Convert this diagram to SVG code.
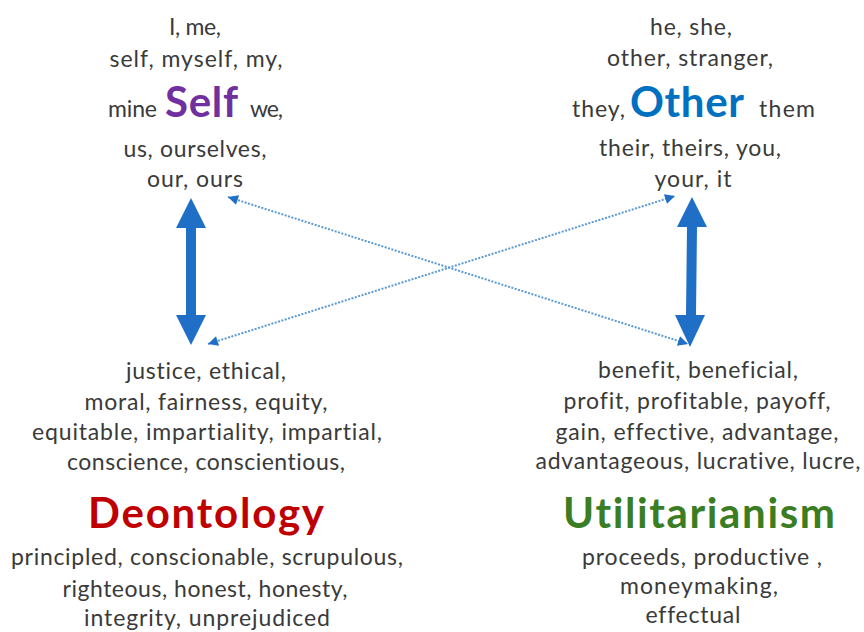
<svg xmlns="http://www.w3.org/2000/svg" width="864" height="632" viewBox="0 0 864 632">
  <style>
    text { font-family: Lato, "Open Sans", sans-serif; font-variant-ligatures: none; }
    .w { font-size: 23px; fill: #3a3a3a; text-anchor: middle; }
    .ws { font-size: 23px; fill: #3a3a3a; }
    .big { font-weight: bold; font-size: 42px; }
    .thick { fill: #1f6fc6; }
    .dots { stroke: #5b9bd5; stroke-width: 2; stroke-dasharray: 2 1.5; fill: none; }
  </style>
  <defs>
    <marker id="tip" viewBox="0 0 10 10" refX="10" refY="5" markerUnits="userSpaceOnUse" markerWidth="15" markerHeight="10" orient="auto-start-reverse">
      <path d="M0,0 L10,5 L0,10 z" fill="#1f6fc6"/>
    </marker>
  </defs>
  <rect width="864" height="632" fill="#ffffff"/>

  <g id="self">
    <text class="w" x="195" y="35" textLength="52" lengthAdjust="spacing">I, me,</text>
    <text class="w" x="196" y="67" textLength="173" lengthAdjust="spacing">self, myself, my,</text>
    <text class="ws" x="108" y="117" textLength="49" lengthAdjust="spacing">mine</text>
    <text class="big" x="165" y="117" fill="#7030a0" textLength="73" lengthAdjust="spacing">Self</text>
    <text class="ws" x="250" y="117" textLength="33" lengthAdjust="spacing">we,</text>
    <text class="w" x="195" y="157" textLength="143" lengthAdjust="spacing">us, ourselves,</text>
    <text class="w" x="195" y="187" textLength="96" lengthAdjust="spacing">our, ours</text>
  </g>

  <g id="other">
    <text class="w" x="691" y="35" textLength="82" lengthAdjust="spacing">he, she,</text>
    <text class="w" x="690" y="66" textLength="166" lengthAdjust="spacing">other, stranger,</text>
    <text class="ws" x="572" y="117" textLength="53" lengthAdjust="spacing">they,</text>
    <text class="big" x="630" y="117" fill="#0070c0" textLength="114" lengthAdjust="spacing">Other</text>
    <text class="ws" x="759" y="117" textLength="56" lengthAdjust="spacing">them</text>
    <text class="w" x="690" y="156" textLength="182" lengthAdjust="spacing">their, theirs, you,</text>
    <text class="w" x="693" y="187" textLength="77" lengthAdjust="spacing">your, it</text>
  </g>

  <g id="deontology">
    <text class="w" x="206" y="379" textLength="160" lengthAdjust="spacing">justice, ethical,</text>
    <text class="w" x="206" y="410" textLength="243" lengthAdjust="spacing">moral, fairness, equity,</text>
    <text class="w" x="207" y="440" textLength="350" lengthAdjust="spacing">equitable, impartiality, impartial,</text>
    <text class="w" x="206" y="470" textLength="278" lengthAdjust="spacing">conscience, conscientious,</text>
    <text class="big" x="206" y="528" fill="#c00000" text-anchor="middle" textLength="236" lengthAdjust="spacing">Deontology</text>
    <text class="w" x="207" y="565" textLength="392" lengthAdjust="spacing">principled, conscionable, scrupulous,</text>
    <text class="w" x="205" y="597" textLength="285" lengthAdjust="spacing">righteous, honest, honesty,</text>
    <text class="w" x="207" y="626" textLength="246" lengthAdjust="spacing">integrity, unprejudiced</text>
  </g>

  <g id="utilitarianism">
    <text class="w" x="698" y="378" textLength="200" lengthAdjust="spacing">benefit, beneficial,</text>
    <text class="w" x="697" y="409" textLength="267" lengthAdjust="spacing">profit, profitable, payoff,</text>
    <text class="w" x="697" y="440" textLength="283" lengthAdjust="spacing">gain, effective, advantage,</text>
    <text class="w" x="698" y="469" textLength="325" lengthAdjust="spacing">advantageous, lucrative, lucre,</text>
    <text class="big" x="699" y="528" fill="#3a7d22" text-anchor="middle" textLength="272" lengthAdjust="spacing">Utilitarianism</text>
    <text class="w" x="702" y="565" textLength="240" lengthAdjust="spacing">proceeds, productive ,</text>
    <text class="w" x="699" y="594" textLength="158" lengthAdjust="spacing">moneymaking,</text>
    <text class="w" x="693" y="623" textLength="95" lengthAdjust="spacing">effectual</text>
  </g>

  <g id="connectors">
    <!-- Self <-> Deontology -->
    <path class="thick" d="M191,198 L206,228 L196,228 L196,315 L206,315 L191,345 L176,315 L186,315 L186,228 L176,228 Z"/>
    <!-- Other <-> Utilitarianism -->
    <path class="thick" d="M692,197 L707,227 L697,227 L696,315 L705,315 L690,347 L675,315 L686,315 L687,227 L677,227 Z"/>
    <!-- crossing dotted links -->
    <line class="dots" x1="228" y1="197" x2="688" y2="344" marker-start="url(#tip)" marker-end="url(#tip)"/>
    <line class="dots" x1="208" y1="344" x2="675" y2="196" marker-start="url(#tip)" marker-end="url(#tip)"/>
  </g>
</svg>
